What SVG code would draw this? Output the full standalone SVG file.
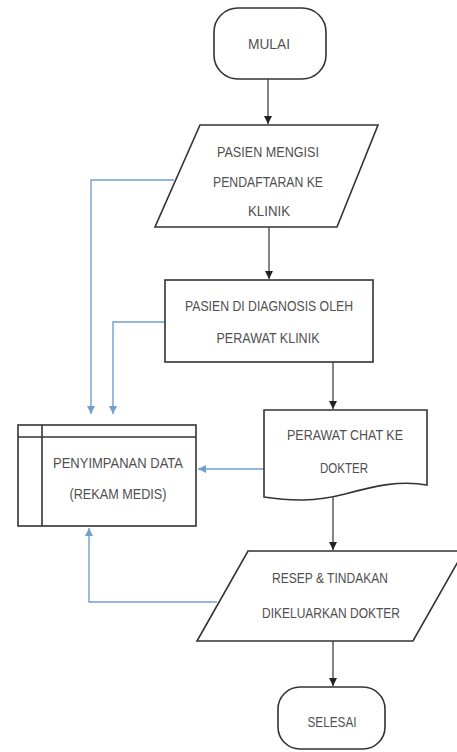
<svg xmlns="http://www.w3.org/2000/svg" width="457" height="752" viewBox="0 0 457 752">
<style>
.shape{fill:#fff;stroke:#333;stroke-width:1.6}
.t{font-family:"Liberation Sans",Arial,sans-serif;font-size:15px;fill:#505050;text-anchor:middle;dominant-baseline:central}
.flow{stroke:#333;stroke-width:1.2;fill:none}
.data{stroke:#6fa0d0;stroke-width:1.4;fill:none}
</style>
<defs>
<marker id="ab" markerWidth="10" markerHeight="10" refX="8" refY="5" orient="auto" markerUnits="userSpaceOnUse"><path d="M0,1 L8,5 L0,9 Z" fill="#222"/></marker>
<marker id="au" markerWidth="10" markerHeight="10" refX="8" refY="5" orient="auto" markerUnits="userSpaceOnUse"><path d="M0,1 L8,5 L0,9 Z" fill="#6fa0d0"/></marker>
</defs>
<rect width="457" height="752" fill="#fff"/>
<g id="connectors">
<line class="flow" x1="268" y1="79" x2="268" y2="124" marker-end="url(#ab)"/>
<line class="flow" x1="269" y1="227" x2="269" y2="279" marker-end="url(#ab)"/>
<line class="flow" x1="333" y1="362" x2="333" y2="409" marker-end="url(#ab)"/>
<line class="flow" x1="333" y1="497" x2="333" y2="550" marker-end="url(#ab)"/>
<line class="flow" x1="333" y1="641" x2="333" y2="686" marker-end="url(#ab)"/>
<polyline class="data" points="174,180 91,180 91,414" marker-end="url(#au)"/>
<polyline class="data" points="165,322 113,322 113,414" marker-end="url(#au)"/>
<line class="data" x1="264" y1="469" x2="198" y2="469" marker-end="url(#au)"/>
<polyline class="data" points="217,602 89,602 89,528" marker-end="url(#au)"/>
</g>
<g id="mulai">
<rect class="shape" x="214" y="8" width="112" height="71" rx="24"/>
<text class="t" x="269" y="43" textLength="42" lengthAdjust="spacingAndGlyphs">MULAI</text>
</g>
<g id="pendaftaran">
<polygon class="shape" points="200,125 378,125 337,227 155,227"/>
<text class="t" x="268" y="151" textLength="102" lengthAdjust="spacingAndGlyphs">PASIEN MENGISI</text>
<text class="t" x="268" y="181" textLength="110" lengthAdjust="spacingAndGlyphs">PENDAFTARAN KE</text>
<text class="t" x="269" y="210" textLength="42" lengthAdjust="spacingAndGlyphs">KLINIK</text>
</g>
<g id="diagnosis">
<rect class="shape" x="165" y="280" width="208" height="82"/>
<text class="t" x="269" y="305" textLength="168" lengthAdjust="spacingAndGlyphs">PASIEN DI DIAGNOSIS OLEH</text>
<text class="t" x="268" y="337" textLength="103" lengthAdjust="spacingAndGlyphs">PERAWAT KLINIK</text>
</g>
<g id="chat">
<path class="shape" d="M264,410 H427 V485 C400,480 375,486 345,494 C315,502 290,501 264,497 Z"/>
<text class="t" x="345" y="434" textLength="116" lengthAdjust="spacingAndGlyphs">PERAWAT CHAT KE</text>
<text class="t" x="344" y="467" textLength="48" lengthAdjust="spacingAndGlyphs">DOKTER</text>
</g>
<g id="penyimpanan">
<rect class="shape" x="18" y="425" width="178" height="101"/>
<line class="shape" x1="18" y1="437" x2="196" y2="437"/>
<line class="shape" x1="42" y1="425" x2="42" y2="526"/>
<text class="t" x="118" y="462" textLength="130" lengthAdjust="spacingAndGlyphs">PENYIMPANAN DATA</text>
<text class="t" x="118" y="493" textLength="97" lengthAdjust="spacingAndGlyphs">(REKAM MEDIS)</text>
</g>
<g id="resep">
<polygon class="shape" points="248,551 464,551 413,641 197,641"/>
<text class="t" x="330" y="577" textLength="116" lengthAdjust="spacingAndGlyphs">RESEP &amp; TINDAKAN</text>
<text class="t" x="331" y="612" textLength="138" lengthAdjust="spacingAndGlyphs">DIKELUARKAN DOKTER</text>
</g>
<g id="selesai">
<rect class="shape" x="278" y="687" width="107" height="62" rx="22"/>
<text class="t" x="332" y="721" textLength="49" lengthAdjust="spacingAndGlyphs">SELESAI</text>
</g>
</svg>
